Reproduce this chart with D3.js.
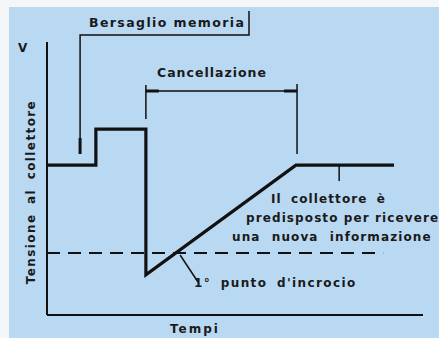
<!DOCTYPE html>
<html>
<head>
<meta charset="utf-8">
<script src="https://cdn.jsdelivr.net/npm/d3@7"></script>
<style>
  body { margin: 0; background: #fff; }
  svg text { font-family: "DejaVu Sans", sans-serif; fill: #1a1a1a; }
</style>
</head>
<body>
<svg id="chart" width="439" height="338"></svg>
<script>
// waveform: time (0..100) vs collector voltage (0..10)
let times = [0, 13.0, 13.0, 26.3, 26.3, 66.2, 92.3];
let volts = [5.49, 5.49, 6.81, 6.81, 1.47, 5.49, 5.49];
let threshold = 2.27;
let thresholdEnd = 89.4;

// markers along the time axis
let bersaglioT = 8.8;     // arrow "Bersaglio memoria"
let cancStart = 26.3;     // "Cancellazione" bracket
let cancEnd = 66.5;
let noteT = 77.7;         // "Il collettore e'" pointer
let crossT = 35.4;        // 1st crossing point

let labels = {
  y: "Tensione al collettore",
  x: "Tempi",
  v: "V",
  bers: "Bersaglio memoria",
  canc: "Cancellazione",
  note: ["Il collettore è", "predisposto per ricevere", "una nuova informazione"],
  cross: "1° punto d'incrocio"
};

let svg = d3.select("#chart");
let x = d3.scaleLinear().domain([0, 100]).range([47, 423]);
let y = d3.scaleLinear().domain([0, 10]).range([315, 42]);

// background
svg.append("rect").attr("x", 0).attr("y", 0).attr("width", 439).attr("height", 338).attr("fill", "#f4f6f8");
svg.append("rect").attr("x", 9).attr("y", 7).attr("width", 430).attr("height", 331).attr("fill", "#b9d8f2");

// axes
svg.append("line").attr("x1", x(0)).attr("x2", x(0)).attr("y1", y(10)).attr("y2", y(0))
  .attr("stroke", "#111").attr("stroke-width", 2);
svg.append("line").attr("x1", x(0)).attr("x2", x(100)).attr("y1", y(0)).attr("y2", y(0))
  .attr("stroke", "#111").attr("stroke-width", 2);

// dashed threshold
svg.append("line").attr("x1", x(0)).attr("x2", x(thresholdEnd)).attr("y1", y(threshold)).attr("y2", y(threshold))
  .attr("stroke", "#111").attr("stroke-width", 2).attr("stroke-dasharray", "13,8");

// waveform
let pts = times.map((t, i) => [x(t), y(volts[i])]);
svg.append("path").attr("d", d3.line()(pts))
  .attr("fill", "none").attr("stroke", "#111").attr("stroke-width", 3.2).attr("stroke-linejoin", "miter");

// Bersaglio memoria
svg.append("path")
  .attr("d", d3.line()([[x(bersaglioT), 154], [x(bersaglioT), 35], [249, 35], [249, 11]]))
  .attr("fill", "none").attr("stroke", "#111").attr("stroke-width", 1.5);
svg.append("line").attr("x1", x(bersaglioT)).attr("x2", x(bersaglioT)).attr("y1", 138).attr("y2", 154)
  .attr("stroke", "#111").attr("stroke-width", 3);
svg.append("text").attr("x", 89).attr("y", 27).attr("font-size", 12.5).attr("font-weight", "bold")
  .attr("letter-spacing", 1.4).text(labels.bers);

// Cancellazione bracket
svg.append("line").attr("x1", x(cancStart)).attr("x2", x(cancEnd)).attr("y1", 91).attr("y2", 91)
  .attr("stroke", "#111").attr("stroke-width", 1.5);
svg.append("line").attr("x1", x(cancStart)).attr("x2", x(cancStart)).attr("y1", 85).attr("y2", 119)
  .attr("stroke", "#111").attr("stroke-width", 1.5);
svg.append("line").attr("x1", x(cancEnd)).attr("x2", x(cancEnd)).attr("y1", 84).attr("y2", 154)
  .attr("stroke", "#111").attr("stroke-width", 1.5);
svg.append("line").attr("x1", x(cancStart)).attr("x2", x(cancStart) + 13).attr("y1", 91).attr("y2", 91)
  .attr("stroke", "#111").attr("stroke-width", 3);
svg.append("line").attr("x1", x(cancEnd) - 13).attr("x2", x(cancEnd)).attr("y1", 91).attr("y2", 91)
  .attr("stroke", "#111").attr("stroke-width", 3);
svg.append("text").attr("x", 157).attr("y", 77).attr("font-size", 12.5).attr("font-weight", "bold")
  .attr("letter-spacing", 1.0).text(labels.canc);

// note pointer and text
svg.append("line").attr("x1", x(noteT)).attr("x2", x(noteT)).attr("y1", y(volts[5])).attr("y2", 181)
  .attr("stroke", "#111").attr("stroke-width", 1.5);
svg.append("text").attr("x", 271).attr("y", 203).attr("font-size", 12).attr("font-weight", "bold")
  .attr("letter-spacing", 1.1).attr("word-spacing", 4).text(labels.note[0]);
svg.append("text").attr("x", 246).attr("y", 222).attr("font-size", 12).attr("font-weight", "bold")
  .attr("letter-spacing", 1.1).text(labels.note[1]);
svg.append("text").attr("x", 232).attr("y", 241).attr("font-size", 12).attr("font-weight", "bold")
  .attr("letter-spacing", 1.1).attr("word-spacing", 6).text(labels.note[2]);

// crossing pointer
svg.append("line").attr("x1", x(crossT)).attr("x2", 198).attr("y1", y(threshold) + 2).attr("y2", 282)
  .attr("stroke", "#111").attr("stroke-width", 1.5);
svg.append("text").attr("x", 194).attr("y", 287).attr("font-size", 12).attr("font-weight", "bold")
  .attr("letter-spacing", 1.4).attr("word-spacing", 4).text(labels.cross);

// axis labels
svg.append("text").attr("x", 18).attr("y", 52).attr("font-size", 12).attr("font-weight", "bold").text(labels.v);
svg.append("text").attr("x", 170).attr("y", 333).attr("font-size", 12).attr("font-weight", "bold")
  .attr("letter-spacing", 2).text(labels.x);
svg.append("text").attr("transform", "translate(35,192) rotate(-90)").attr("text-anchor", "middle")
  .attr("font-size", 12).attr("font-weight", "bold").attr("letter-spacing", 1.4).attr("word-spacing", 4)
  .text(labels.y);
</script>
</body>
</html>
